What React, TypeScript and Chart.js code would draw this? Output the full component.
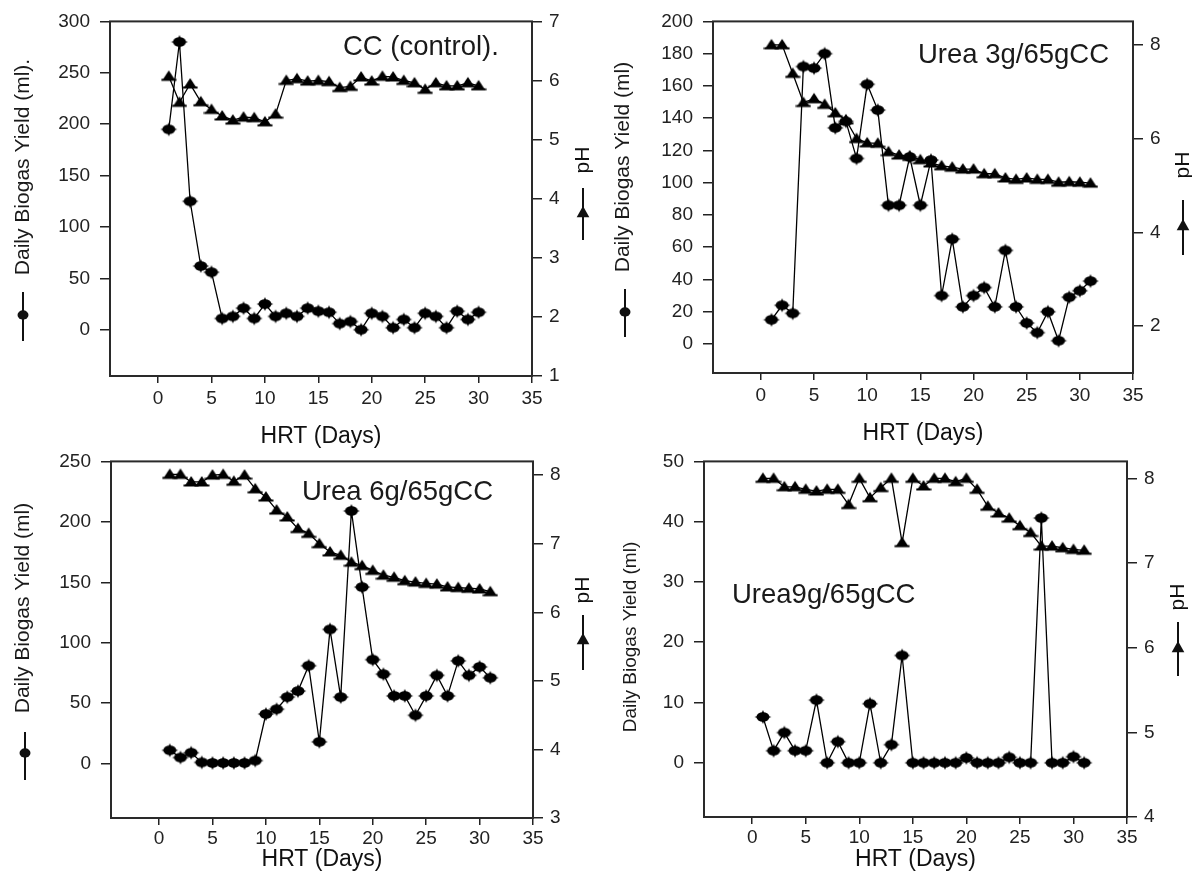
import { useEffect, useRef } from 'react';
import { Chart, registerables } from 'chart.js';

Chart.register(...registerables);

const FONT = '"Liberation Sans", Arial, Helvetica, sans-serif';

// ---------------- data ----------------
const days30 = [1, 2, 3, 4, 5, 6, 7, 8, 9, 10, 11, 12, 13, 14, 15, 16, 17, 18, 19, 20, 21, 22, 23, 24, 25, 26, 27, 28, 29, 30];
const days31 = [1, 2, 3, 4, 5, 6, 7, 8, 9, 10, 11, 12, 13, 14, 15, 16, 17, 18, 19, 20, 21, 22, 23, 24, 25, 26, 27, 28, 29, 30, 31];

const ccBiogas = [195, 280, 125, 62, 56, 11, 13, 21, 11, 25, 13, 16, 13, 21, 18, 17, 6, 8, 0, 16, 13, 2, 10, 2, 16, 13, 2, 18, 10, 17];
const ccPH = [6.07, 5.63, 5.94, 5.64, 5.51, 5.4, 5.33, 5.38, 5.37, 5.3, 5.43, 6.0, 6.03, 5.99, 6.0, 5.98, 5.88, 5.9, 6.06, 5.99, 6.07, 6.06, 6.0, 5.96, 5.85, 5.96, 5.91, 5.91, 5.96, 5.91];

const u3Biogas = [15, 24, 19, 172, 171, 180, 134, 138, 115, 161, 145, 86, 86, 116, 86, 114, 30, 65, 23, 30, 35, 23, 58, 23, 13, 7, 20, 2, 29, 33, 39];
const u3PH = [8.0, 8.0, 7.39, 6.77, 6.85, 6.73, 6.55, 6.4, 6.0, 5.91, 5.9, 5.72, 5.65, 5.62, 5.55, 5.48, 5.42, 5.39, 5.35, 5.35, 5.25, 5.25, 5.16, 5.13, 5.16, 5.13, 5.13, 5.07, 5.08, 5.07, 5.05];

const u6Biogas = [11, 5, 9, 1, 0.5, 0.5, 0.5, 0.5, 2.5, 41, 45, 55, 60, 81, 18, 111, 55, 209, 146, 86, 74, 56, 56, 40, 56, 73, 56, 85, 73, 80, 71];
const u6PH = [8.01, 8.01, 7.9, 7.9, 8.0, 8.01, 7.91, 8.0, 7.8, 7.68, 7.49, 7.39, 7.22, 7.15, 7.0, 6.88, 6.83, 6.73, 6.68, 6.61, 6.54, 6.51, 6.46, 6.44, 6.42, 6.41, 6.37, 6.36, 6.35, 6.34, 6.3];

const u9Biogas = [7.6, 2, 5, 2, 2, 10.4, 0, 3.5, 0, 0, 9.8, 0, 3, 17.8, 0, 0, 0, 0, 0, 0.8, 0, 0, 0, 0.9, 0, 0, 40.6, 0, 0, 1, 0];
const u9PH = [8.0, 8.0, 7.9, 7.9, 7.87, 7.85, 7.87, 7.87, 7.69, 8.0, 7.77, 7.89, 8.0, 7.24, 8.0, 7.91, 8.0, 8.0, 7.96, 8.0, 7.87, 7.67, 7.59, 7.53, 7.44, 7.36, 7.2, 7.2, 7.18, 7.16, 7.15];

// ---------------- tick labels ----------------
const xTicks = [0, 5, 10, 15, 20, 25, 30, 35];
const ccLeftTicks = [0, 50, 100, 150, 200, 250, 300];
const ccRightTicks = [1, 2, 3, 4, 5, 6, 7];
const u3LeftTicks = [0, 20, 40, 60, 80, 100, 120, 140, 160, 180, 200];
const u3RightTicks = [2, 4, 6, 8];
const u6LeftTicks = [0, 50, 100, 150, 200, 250];
const u6RightTicks = [3, 4, 5, 6, 7, 8];
const u9LeftTicks = [0, 10, 20, 30, 40, 50];
const u9RightTicks = [4, 5, 6, 7, 8];

const xTitle = 'HRT (Days)';
const phTitle = 'pH';

type Sym = { x: number; y1: number; y2: number; my: number } | null;
type PanelCfg = {
  key: string;
  days: number[];
  biogas: number[];
  ph: number[];
  leftTicks: number[];
  rightTicks: number[];
  leftRange: [number, number];
  rightRange: [number, number];
  canvas: { x: number; y: number; w: number; h: number };
  area: { l: number; t: number; r: number; b: number };
  xTitleY: number;
  xTickPad: number;
  label: { text: string; x: number; y: number; size: number };
  leftTitle: { text: string; cx: number; cy: number; size: number; sym: Sym };
  rightTitle: { cx: number; cy: number; sym: Sym };
};

const panels: PanelCfg[] = [
  {
    key: 'cc', days: days30, biogas: ccBiogas, ph: ccPH,
    leftTicks: ccLeftTicks, rightTicks: ccRightTicks,
    leftRange: [-45, 300], rightRange: [1, 7],
    canvas: { x: 0, y: 0, w: 596, h: 470 },
    area: { l: 110, t: 20, r: 532, b: 376 },
    xTitleY: 437,
    xTickPad: 4,
    label: { text: 'CC (control).', x: 343, y: 47, size: 27.5 },
    leftTitle: { text: 'Daily Biogas Yield (ml).', cx: 23, cy: 167, size: 21, sym: { x: 23, y1: 292, y2: 341, my: 315 } },
    rightTitle: { cx: 583, cy: 160, sym: { x: 583, y1: 188, y2: 240, my: 213 } },
  },
  {
    key: 'u3', days: days31, biogas: u3Biogas, ph: u3PH,
    leftTicks: u3LeftTicks, rightTicks: u3RightTicks,
    leftRange: [-18, 200], rightRange: [1, 8.5],
    canvas: { x: 596, y: 0, w: 596, h: 470 },
    area: { l: 713, t: 15, r: 1133, b: 373 },
    xTitleY: 434,
    xTickPad: 4,
    label: { text: 'Urea 3g/65gCC', x: 918, y: 55, size: 27.5 },
    leftTitle: { text: 'Daily Biogas Yield (ml)', cx: 623, cy: 167, size: 21, sym: { x: 625, y1: 289, y2: 337, my: 312 } },
    rightTitle: { cx: 1183, cy: 165, sym: { x: 1183, y1: 200, y2: 255, my: 226 } },
  },
  {
    key: 'u6', days: days31, biogas: u6Biogas, ph: u6PH,
    leftTicks: u6LeftTicks, rightTicks: u6RightTicks,
    leftRange: [-45, 250], rightRange: [3, 8.2],
    canvas: { x: 0, y: 440, w: 596, h: 441 },
    area: { l: 111, t: 461, r: 533, b: 818 },
    xTitleY: 860,
    xTickPad: 2,
    label: { text: 'Urea 6g/65gCC', x: 302, y: 492, size: 27.5 },
    leftTitle: { text: 'Daily Biogas Yield (ml)', cx: 23, cy: 608, size: 21, sym: { x: 25, y1: 732, y2: 780, my: 753 } },
    rightTitle: { cx: 583, cy: 590, sym: { x: 583, y1: 615, y2: 670, my: 640 } },
  },
  {
    key: 'u9', days: days31, biogas: u9Biogas, ph: u9PH,
    leftTicks: u9LeftTicks, rightTicks: u9RightTicks,
    leftRange: [-9, 50], rightRange: [4, 8.2],
    canvas: { x: 596, y: 440, w: 596, h: 441 },
    area: { l: 704, t: 460, r: 1127, b: 817 },
    xTitleY: 860,
    xTickPad: 2,
    label: { text: 'Urea9g/65gCC', x: 732, y: 595, size: 27.5 },
    leftTitle: { text: 'Daily Biogas Yield (ml)', cx: 631, cy: 637, size: 19, sym: null },
    rightTitle: { cx: 1178, cy: 597, sym: { x: 1178, y1: 622, y2: 676, my: 648 } },
  },
];

// blob-like marker for the biogas series
function makeBlob(): HTMLCanvasElement {
  const c = document.createElement('canvas');
  c.width = 18;
  c.height = 16;
  const g = c.getContext('2d')!;
  g.fillStyle = '#000';
  const cx = 9, cy = 8;
  g.beginPath();
  g.ellipse(cx, cy, 6.5, 4.8, 0, 0, Math.PI * 2);
  g.fill();
  g.beginPath();
  g.moveTo(cx, cy - 7);
  g.lineTo(cx + 3, cy);
  g.lineTo(cx, cy + 7);
  g.lineTo(cx - 3, cy);
  g.closePath();
  g.fill();
  g.beginPath();
  g.moveTo(cx - 8.5, cy);
  g.lineTo(cx, cy - 2.5);
  g.lineTo(cx + 8.5, cy);
  g.lineTo(cx, cy + 2.5);
  g.closePath();
  g.fill();
  return c;
}

// triangle marker for the pH series
function makeTri(): HTMLCanvasElement {
  const c = document.createElement('canvas');
  c.width = 16;
  c.height = 14;
  const g = c.getContext('2d')!;
  g.fillStyle = '#000';
  g.beginPath();
  g.moveTo(8, 1);
  g.lineTo(14.5, 11);
  g.lineTo(1.5, 11);
  g.closePath();
  g.fill();
  g.fillRect(0.5, 9.5, 15, 2);
  return c;
}

function blobSym(ctx: CanvasRenderingContext2D, x: number, y: number, r: number) {
  ctx.beginPath();
  ctx.ellipse(x, y, r, r * 0.85, 0, 0, Math.PI * 2);
  ctx.fill();
}

function triangle(ctx: CanvasRenderingContext2D, x: number, y: number, r: number) {
  ctx.beginPath();
  ctx.moveTo(x, y - r);
  ctx.lineTo(x + r * 0.9, y + r * 0.6);
  ctx.lineTo(x - r * 0.9, y + r * 0.6);
  ctx.closePath();
  ctx.fill();
}

function makeDecor(p: PanelCfg) {
  const ox = p.canvas.x;
  const oy = p.canvas.y;
  return {
    id: 'decor_' + p.key,
    afterDraw(chart: any) {
      const ctx: CanvasRenderingContext2D = chart.ctx;
      const a = chart.chartArea;
      ctx.save();
      // frame
      ctx.strokeStyle = '#2a2a2a';
      ctx.lineWidth = 2;
      ctx.strokeRect(a.left, a.top, a.right - a.left, a.bottom - a.top);
      // panel label
      ctx.fillStyle = '#1a1a1a';
      ctx.font = `${p.label.size}px ${FONT}`;
      ctx.textAlign = 'left';
      ctx.textBaseline = 'middle';
      ctx.fillText(p.label.text, p.label.x - ox, p.label.y - oy);
      // left title (rotated)
      const lt = p.leftTitle;
      ctx.save();
      ctx.translate(lt.cx - ox, lt.cy - oy);
      ctx.rotate(-Math.PI / 2);
      ctx.font = `${lt.size}px ${FONT}`;
      ctx.textAlign = 'center';
      ctx.fillText(lt.text, 0, 0);
      ctx.restore();
      ctx.strokeStyle = '#111';
      ctx.fillStyle = '#111';
      ctx.lineWidth = 2;
      if (lt.sym) {
        ctx.beginPath();
        ctx.moveTo(lt.sym.x - ox, lt.sym.y1 - oy);
        ctx.lineTo(lt.sym.x - ox, lt.sym.y2 - oy);
        ctx.stroke();
        blobSym(ctx, lt.sym.x - ox, lt.sym.my - oy, 5.5);
      }
      // right title
      const rt = p.rightTitle;
      ctx.save();
      ctx.translate(rt.cx - ox, rt.cy - oy);
      ctx.rotate(-Math.PI / 2);
      ctx.font = `21px ${FONT}`;
      ctx.textAlign = 'center';
      ctx.fillText(phTitle, 0, 0);
      ctx.restore();
      if (rt.sym) {
        ctx.beginPath();
        ctx.moveTo(rt.sym.x - ox, rt.sym.y1 - oy);
        ctx.lineTo(rt.sym.x - ox, rt.sym.y2 - oy);
        ctx.stroke();
        triangle(ctx, rt.sym.x - ox, rt.sym.my - oy, 7);
      }
      ctx.restore();
    },
  };
}

function PanelChart({ p }: { p: PanelCfg }) {
  const ref = useRef<HTMLCanvasElement>(null);
  useEffect(() => {
    const cv = ref.current;
    if (!cv) return;
    const leftW = p.area.l - p.canvas.x;
    const rightW = p.canvas.x + p.canvas.w - p.area.r;
    const topPad = p.area.t - p.canvas.y;
    const xH = p.canvas.y + p.canvas.h - p.area.b;
    const titleSize = 23;
    const titleLH = titleSize * 1.2;
    const titlePadBottom = p.canvas.y + p.canvas.h - p.xTitleY - titleLH / 2;
    const tickFont = { family: FONT, size: 19 };
    const gridBase = { drawOnChartArea: false, drawTicks: true, color: '#222', lineWidth: 1.5 };
    const blob = makeBlob();
    const tri = makeTri();

    const chart = new Chart(cv, {
      type: 'line',
      data: {
        datasets: [
          {
            label: 'Daily Biogas Yield',
            data: p.days.map((d, i) => ({ x: d, y: p.biogas[i] })),
            yAxisID: 'y',
            borderColor: '#000',
            borderWidth: 1.3,
            pointStyle: blob,
            pointRadius: 7,
            pointBackgroundColor: '#000',
            pointBorderColor: '#000',
            tension: 0,
          },
          {
            label: 'pH',
            data: p.days.map((d, i) => ({ x: d, y: p.ph[i] })),
            yAxisID: 'y1',
            borderColor: '#000',
            borderWidth: 1.3,
            pointStyle: tri,
            pointRadius: 7,
            pointBackgroundColor: '#000',
            pointBorderColor: '#000',
            tension: 0,
          },
        ],
      },
      options: {
        responsive: false,
        animation: false,
        devicePixelRatio: 1,
        layout: { padding: { top: topPad, left: 0, right: 0, bottom: 0 } },
        plugins: { legend: { display: false }, tooltip: { enabled: false } },
        scales: {
          x: {
            type: 'linear',
            min: -4.5,
            max: 35,
            afterBuildTicks: (s: any) => { s.ticks = xTicks.map((v) => ({ value: v })); },
            afterFit: (s: any) => { s.height = xH; },
            grid: { ...gridBase, tickLength: 7 },
            border: { display: false },
            ticks: { font: tickFont, color: '#222', padding: p.xTickPad, maxRotation: 0 },
            title: {
              display: true,
              text: xTitle,
              color: '#111',
              font: { family: FONT, size: titleSize, lineHeight: 1.2 },
              padding: { top: 0, bottom: titlePadBottom },
            },
          },
          y: {
            type: 'linear',
            position: 'left',
            min: p.leftRange[0],
            max: p.leftRange[1],
            afterBuildTicks: (s: any) => { s.ticks = p.leftTicks.map((v) => ({ value: v })); },
            afterFit: (s: any) => { s.width = leftW; },
            grid: { ...gridBase, tickLength: 10 },
            border: { display: false },
            ticks: { font: tickFont, color: '#222', padding: 10 },
          },
          y1: {
            type: 'linear',
            position: 'right',
            min: p.rightRange[0],
            max: p.rightRange[1],
            afterBuildTicks: (s: any) => { s.ticks = p.rightTicks.map((v) => ({ value: v })); },
            afterFit: (s: any) => { s.width = rightW; },
            grid: { ...gridBase, tickLength: 10 },
            border: { display: false },
            ticks: { font: tickFont, color: '#222', padding: 7 },
          },
        },
      } as any,
      plugins: [makeDecor(p)],
    });
    return () => chart.destroy();
  }, [p]);
  return (
    <canvas
      ref={ref}
      width={p.canvas.w}
      height={p.canvas.h}
      style={{ position: 'absolute', left: p.canvas.x, top: p.canvas.y, width: p.canvas.w, height: p.canvas.h }}
    />
  );
}

export default function App() {
  return (
    <div style={{ position: 'absolute', left: 0, top: 0, width: 1192, height: 881, background: '#fff', overflow: 'hidden' }}>
      {panels.map((p) => (
        <PanelChart key={p.key} p={p} />
      ))}
    </div>
  );
}
